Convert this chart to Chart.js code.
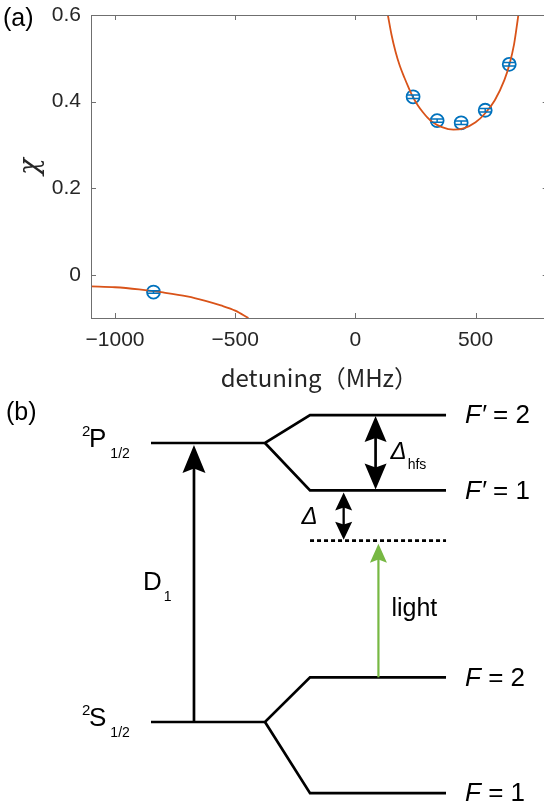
<!DOCTYPE html>
<html><head><meta charset="utf-8">
<script src="https://cdn.jsdelivr.net/npm/chart.js@4.4.0/dist/chart.umd.min.js"></script>
<style>
html,body{margin:0;padding:0;background:#fff;overflow:hidden;}
#wrap{position:relative;width:544px;height:806px;overflow:hidden;background:#fff;}
#ca{position:absolute;left:0;top:0;}
#cb{position:absolute;left:0;top:395px;}
</style></head><body>
<div id="wrap"><canvas id="ca" width="556" height="395"></canvas><canvas id="cb" width="544" height="411"></canvas></div>
<script>
// ---------- Panel (a) data ----------
const detuning = [-840, 240, 340, 440, 540, 640];          // MHz
const chi      = [-0.040, 0.411, 0.356, 0.351, 0.380, 0.486];
const chiErr   = [0.003, 0.004, 0.004, 0.004, 0.004, 0.004];
const fitLeftX  = [-1100, -1000, -900, -800, -700, -620, -560, -500, -445];
const fitLeftY  = [-0.027, -0.029, -0.034, -0.041, -0.050, -0.061, -0.071, -0.083, -0.100];
const fitRightX = [135, 150, 167, 185, 204, 220, 240, 260, 280, 300, 320, 360, 408, 450, 500, 540, 580, 620, 641, 660, 678];
const fitRightY = [0.600, 0.555, 0.515, 0.482, 0.455, 0.434, 0.410, 0.391, 0.376, 0.363, 0.353, 0.341, 0.335, 0.338, 0.352, 0.373, 0.403, 0.450, 0.486, 0.532, 0.600];
const xTicks = [-1000, -500, 0, 500];
const yTicks = [0, 0.2, 0.4, 0.6];

// ---------- Panel (b) data (arbitrary energy units) ----------
const fineLabels  = ['P', 'S'];           // ²P1/2, ²S1/2
const fineEnergy  = [100, 0];
const hfsLabels   = ['2', '1', '2', '1']; // F' = 2, F' = 1, F = 2, F = 1
const hfsPrimed   = [true, true, false, false];
const hfsEnergy   = [110, 83, 16, -25.5];
const hfsParent   = [0, 0, 1, 1];
const virtualEnergy = 65;                 // light frequency (dashed)

const SANS = "'Liberation Sans', Arial, sans-serif";
const TXT = '#262626';

// ---------- Panel (a) ----------
const boxPlugin = {
  id: 'box',
  afterDatasetsDraw(chart) {
    const {ctx, chartArea: a, scales: {x, y}} = chart;
    ctx.save();
    // error bars
    ctx.strokeStyle = '#0072BD'; ctx.lineWidth = 1.5;
    detuning.forEach((d, i) => {
      const cx = x.getPixelForValue(d);
      const y1 = y.getPixelForValue(chi[i] - chiErr[i]);
      const y2 = y.getPixelForValue(chi[i] + chiErr[i]);
      ctx.beginPath();
      ctx.moveTo(cx, y1); ctx.lineTo(cx, y2);
      ctx.moveTo(cx - 6, y1); ctx.lineTo(cx + 6, y1);
      ctx.moveTo(cx - 6, y2); ctx.lineTo(cx + 6, y2);
      ctx.stroke();
    });
    // box + inward ticks
    ctx.strokeStyle = '#6f6f6f'; ctx.lineWidth = 1;
    ctx.strokeRect(Math.round(a.left) + 0.5, Math.round(a.top) + 0.5,
                   Math.round(a.right - a.left) - 1, Math.round(a.bottom - a.top));
    ctx.beginPath();
    xTicks.forEach(v => {
      const p = Math.round(x.getPixelForValue(v)) + 0.5;
      ctx.moveTo(p, a.bottom); ctx.lineTo(p, a.bottom - 5);
      ctx.moveTo(p, a.top); ctx.lineTo(p, a.top + 5);
    });
    yTicks.forEach(v => {
      const p = Math.round(y.getPixelForValue(v)) + 0.5;
      ctx.moveTo(a.left, p); ctx.lineTo(a.left + 5, p);
      ctx.moveTo(a.right, p); ctx.lineTo(a.right - 5, p);
    });
    ctx.stroke();
    // panel label
    ctx.fillStyle = '#000'; ctx.font = '25px ' + SANS;
    ctx.textBaseline = 'middle'; ctx.textAlign = 'left';
    ctx.fillText('(a)', 3, 19);
    ctx.restore();
  }
};

new Chart(document.getElementById('ca'), {
  type: 'scatter',
  data: { datasets: [
    { data: fitLeftX.map((v, i) => ({x: v, y: fitLeftY[i]})), showLine: true,
      borderColor: '#D95319', borderWidth: 1.8, pointRadius: 0, cubicInterpolationMode: 'monotone', order: 0 },
    { data: fitRightX.map((v, i) => ({x: v, y: fitRightY[i]})), showLine: true,
      borderColor: '#D95319', borderWidth: 1.8, pointRadius: 0, cubicInterpolationMode: 'monotone', order: 0 },
    { data: detuning.map((v, i) => ({x: v, y: chi[i]})), showLine: false,
      pointStyle: 'circle', pointRadius: 6.5, borderColor: '#0072BD', backgroundColor: 'rgba(0,0,0,0)',
      pointBorderWidth: 1.8, order: 1 }
  ]},
  options: {
    animation: false, responsive: false, devicePixelRatio: 1,
    layout: { padding: { top: 15, right: 0, left: 0, bottom: 0 } },
    plugins: { legend: { display: false }, tooltip: { enabled: false } },
    scales: {
      x: {
        type: 'linear', min: -1100, max: 800,
        afterBuildTicks: s => { s.ticks = xTicks.map(v => ({value: v})); },
        ticks: { font: { size: 21, family: SANS }, color: TXT, padding: 10, maxRotation: 0,
                 callback: v => v < 0 ? '\u2212' + Math.abs(v) : String(v) },
        grid: { display: false, drawTicks: false }, border: { display: false },
        title: { display: true, text: 'detuning\uFF08MHz\uFF09', color: TXT,
                 font: { size: 24, family: "'Noto Sans CJK JP', sans-serif" }, padding: { top: 0, bottom: 3 } },
        afterFit: s => { s.height = 77; s.paddingLeft = 0; s.paddingRight = 0; }
      },
      y: {
        type: 'linear', min: -0.1, max: 0.6,
        afterBuildTicks: s => { s.ticks = yTicks.map(v => ({value: v})); },
        ticks: { font: { size: 21, family: SANS }, color: TXT, padding: 10,
                 callback: v => v === 0 ? '0' : v.toFixed(1) },
        grid: { display: false, drawTicks: false }, border: { display: false },
        title: { display: true, text: '\u03C7', color: TXT,
                 font: { size: 28, family: "'DejaVu Serif', serif", style: 'italic' }, padding: { top: 14, bottom: 0 } },
        afterFit: s => { s.width = 91; s.paddingTop = 0; s.paddingBottom = 0; }
      }
    }
  },
  plugins: [boxPlugin]
});

// ---------- Panel (b) ----------
const FINE_X0 = 0, FINE_X1 = 1, HFS_X0 = 1.395, HFS_X1 = 2.588;
const D1_X = 0.377, DELTA_X = 1.69, HFS_ARROW_X = 1.97, LIGHT_X = 1.995;

const levelSets = [];
fineEnergy.forEach((E, f) => {
  const kids = hfsEnergy.map((e, i) => ({e, i})).filter(o => hfsParent[o.i] === f);
  const upper = kids[0], lower = kids[1];
  levelSets.push([{x: FINE_X0, y: E}, {x: FINE_X1, y: E}, {x: HFS_X0, y: upper.e}, {x: HFS_X1, y: upper.e}]);
  levelSets.push([{x: FINE_X1, y: E}, {x: HFS_X0, y: lower.e}, {x: HFS_X1, y: lower.e}]);
});

const datasetsB = levelSets.map(d => ({
  data: d, showLine: true, borderColor: '#000', borderWidth: 2.7, pointRadius: 0,
  borderJoinStyle: 'miter', borderCapStyle: 'butt', tension: 0
}));
datasetsB.push({
  data: [{x: HFS_X0, y: virtualEnergy}, {x: HFS_X1, y: virtualEnergy}], showLine: true,
  borderColor: '#000', borderWidth: 2.8, pointRadius: 0, borderDash: [4, 3], tension: 0
});

function head(ctx, x, tipY, dir, len, hw) { // dir=+1: pointing up, -1: pointing down
  const b = tipY + dir * len;
  ctx.beginPath();
  ctx.moveTo(x, tipY);
  ctx.lineTo(x + hw, b);
  ctx.lineTo(x, tipY + dir * len * 0.84);
  ctx.lineTo(x - hw, b);
  ctx.closePath();
  ctx.fill();
}
function arrow(ctx, x, yBottom, yTop, color, lw, len, hw, dbl) {
  ctx.strokeStyle = color; ctx.fillStyle = color; ctx.lineWidth = lw;
  const s0 = dbl ? yBottom - len * 0.8 : yBottom;
  const s1 = yTop + len * 0.8;
  ctx.beginPath(); ctx.moveTo(x, s0); ctx.lineTo(x, s1); ctx.stroke();
  head(ctx, x, yTop, 1, len, hw);
  if (dbl) head(ctx, x, yBottom, -1, len, hw);
}
function txt(ctx, s, x, y, size, italic, align) {
  ctx.font = (italic ? 'italic ' : '') + size + 'px ' + SANS;
  ctx.textAlign = align || 'left'; ctx.textBaseline = 'middle';
  ctx.fillText(s, x, y);
  return ctx.measureText(s).width;
}

const diagramPlugin = {
  id: 'diagram',
  afterDatasetsDraw(chart) {
    const {ctx, scales: {x, y}} = chart;
    const px = v => x.getPixelForValue(v), py = v => y.getPixelForValue(v);
    ctx.save();
    // arrows
    arrow(ctx, px(D1_X), py(fineEnergy[1]), py(fineEnergy[0]) + 2, '#000', 2.7, 28, 11.5, false);
    arrow(ctx, px(HFS_ARROW_X), py(hfsEnergy[1]) - 1, py(hfsEnergy[0]) + 1, '#000', 2.7, 26, 11, true);
    arrow(ctx, px(DELTA_X), py(virtualEnergy) - 1, py(hfsEnergy[1]) + 2, '#000', 2.3, 18, 8.5, true);
    arrow(ctx, px(LIGHT_X), py(hfsEnergy[2]), py(virtualEnergy) + 3, '#77B843', 2.2, 19, 8.5, false);

    ctx.fillStyle = '#000';
    // panel label
    txt(ctx, '(b)', 6, 18, 25, false);
    // fine-structure labels
    fineEnergy.forEach((E, i) => {
      const yy = py(E);
      txt(ctx, '2', 82, yy - 11, 15, false);
      const w = txt(ctx, fineLabels[i], 89, yy - 3, 26, false);
      txt(ctx, '1/2', 89 + w + 4, yy + 11, 14, false);
    });
    // hyperfine labels
    hfsEnergy.forEach((E, i) => {
      const yy = py(E) + 1;
      let xx = px(HFS_X1) + 19;
      xx += txt(ctx, hfsPrimed[i] ? 'F\u2032' : 'F', xx, yy, 26, true);
      txt(ctx, ' = ' + hfsLabels[i], xx, yy, 26, false);
    });
    // D1
    const dMid = (py(fineEnergy[0]) + py(fineEnergy[1])) / 2;
    const wD = txt(ctx, 'D', 143, dMid, 26, false);
    txt(ctx, '1', 143 + wD + 2, dMid + 15, 14, false);
    // Delta
    txt(ctx, '\u0394', px(DELTA_X) - 26, (py(hfsEnergy[1]) + py(virtualEnergy)) / 2 + 2, 24, true, 'right');
    // Delta_hfs
    const hMid = (py(hfsEnergy[0]) + py(hfsEnergy[1])) / 2;
    const wH = txt(ctx, '\u0394', px(HFS_ARROW_X) + 15, hMid, 24, true);
    txt(ctx, 'hfs', px(HFS_ARROW_X) + 15 + wH + 1, hMid + 12, 14, false);
    // light
    txt(ctx, 'light', px(LIGHT_X) + 13, (py(hfsEnergy[2]) + py(virtualEnergy)) / 2, 25, false);
    ctx.restore();
  }
};

new Chart(document.getElementById('cb'), {
  type: 'scatter',
  data: { datasets: datasetsB },
  options: {
    animation: false, responsive: false, devicePixelRatio: 1,
    layout: { padding: 0 },
    plugins: { legend: { display: false }, tooltip: { enabled: false } },
    scales: {
      x: { type: 'linear', min: -1.3246, max: 3.4474, display: false },
      y: { type: 'linear', min: -30.1, max: 117.2, display: false }
    }
  },
  plugins: [diagramPlugin]
});
</script>
</body></html>
